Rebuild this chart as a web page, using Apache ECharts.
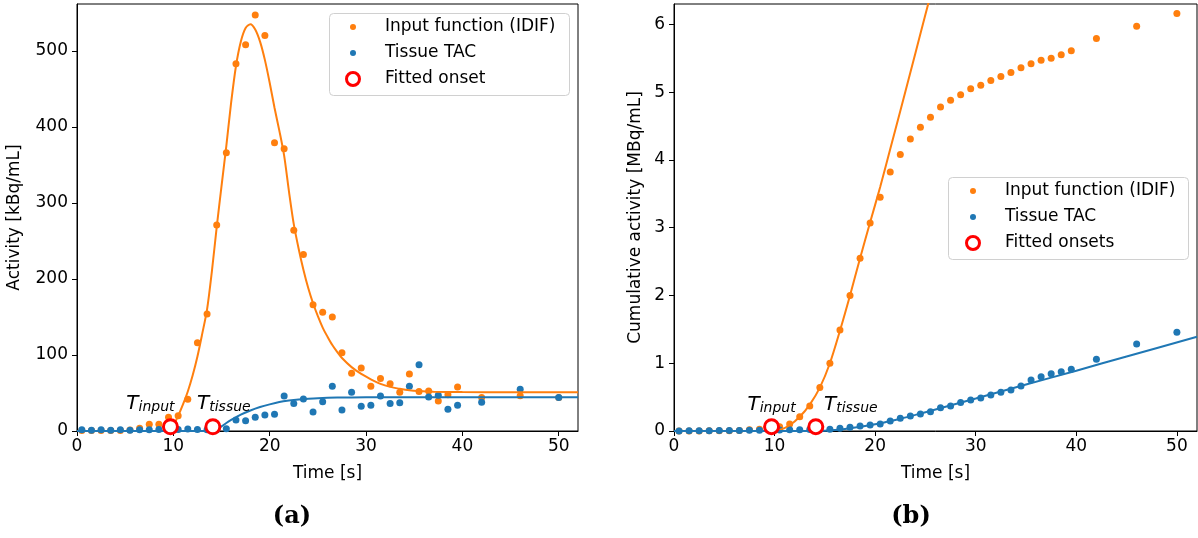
<!DOCTYPE html>
<html><head><meta charset="utf-8">
<script src="https://cdn.jsdelivr.net/npm/echarts@6/dist/echarts.min.js"></script>
<style>html,body{margin:0;padding:0;background:#fff}#c{width:1198px;height:538px}</style>
</head><body><div id="c"></div>
<script>
// ---- data ----
const time = [0.5,1.5,2.5,3.5,4.5,5.5,6.5,7.5,8.5,9.5,10.5,11.5,12.5,13.5,14.5,15.5,16.5,17.5,18.5,19.5,
  20.5,21.5,22.5,23.5,24.5,25.5,26.5,27.5,28.5,29.5,30.5,31.5,32.5,33.5,34.5,35.5,36.5,37.5,38.5,39.5,42,46,50];
const idif = [0.5,0.5,0.5,0.8,0.8,1.2,3.5,8.8,8.8,18,20,41.7,116,154,271,366,483,508,547,520,
  379,371,264,232,166,156,150,103,76,83,59,69,62,51,75,52,52.6,39.5,47.8,58,44,46.5,44];
const tissue = [1.5,1,1.5,1,1.5,1,1.5,1.5,2,1.5,2,2.5,2,1.5,1.5,3,14.5,13.6,18,21,
  22,46,36,42,25,38.6,59,27.6,51,32.5,34,46,36,37,59,87,44.7,47,28.5,33.8,37.7,54.8,44];
const idifCum = [0.0005,0.001,0.0015,0.002,0.003,0.004,0.008,0.017,0.025,0.043,0.063,0.105,0.21,0.37,0.64,1.0,1.49,2.0,2.55,3.07,
  3.45,3.82,4.08,4.31,4.48,4.63,4.78,4.88,4.96,5.05,5.10,5.17,5.23,5.29,5.36,5.42,5.47,5.50,5.55,5.61,5.79,5.97,6.16];
const tissueCum = [0.001,0.002,0.004,0.005,0.006,0.007,0.009,0.010,0.012,0.013,0.015,0.018,0.020,0.021,0.023,0.025,0.04,0.055,0.072,0.088,
  0.103,0.148,0.187,0.22,0.25,0.285,0.344,0.37,0.42,0.458,0.487,0.53,0.57,0.605,0.665,0.753,0.80,0.846,0.876,0.91,1.06,1.285,1.457];

// fitted curves
const fitIdifT = [0,9.7,10,10.5,11,11.5,12,12.5,13,13.5,14,14.5,15,15.5,16,16.5,17,17.5,18,18.5,19,19.5,20,20.5,21,21.5,22,22.5,23,23.5,24,24.5,25,25.5,26,26.5,27,27.5,28.5,29.5,30.5,31.5,32.5,33.5,34.5,35.5,37,40,45,52];
const fitIdifV = [0,0,7,20,35,52,73,98,128,160,210,268,322,375,432,480,512,530,535,528,512,488,458,425,395,362,315,272,240,212,188,168,151,136,124,113,104,96,84,75,68,62,58,55.5,53.5,52.5,51.7,51.2,51,51];
const fitTissueT = [0,14.1,14.5,15,15.5,16,16.5,17,18,19,20,21,22,23,24,25,27,30,35,52];
const fitTissueV = [0,0,2,6,10.5,14.5,18,21.5,27,31.5,35,38,40,41.5,42.5,43.2,43.9,44.3,44.5,44.5];
const fitIdifCumT = [0,9.7,10.5,11.5,12.5,13.5,14.5,15.5,16.5,17.5,18.5,19.5,20.5,21.5,22.5,23.5,24.5,25.5];
const fitIdifCumV = [0,0,0.015,0.085,0.21,0.39,0.64,1.0,1.48,2.0,2.55,3.08,3.6,4.16,4.72,5.29,5.86,6.43];
const fitTissueCumT = [0,14.1,15,16,17,18,19,20,21,22,24,26,30,35,40,45,52];
const fitTissueCumV = [0,0,0.004,0.014,0.03,0.05,0.074,0.1,0.13,0.162,0.238,0.318,0.48,0.685,0.89,1.1,1.39];

const onsetT = [9.7, 14.1];
const onsetLabels = ['input', 'tissue'];
const onsetYLeft = [5.6, 5.6];
const onsetYRight = [0.063, 0.063];

const xTicks = [0,10,20,30,40,50];
const yTicksLeft = [0,100,200,300,400,500];
const yTicksRight = [0,1,2,3,4,5,6];

// ---- styles ----
const ORANGE = '#ff7f0e', BLUE = '#1f77b4', RED = '#ff0000';
const FONT = 'DejaVu Sans';
const zip = (a, b) => a.map((v, i) => [v, b[i]]);

function xAxis(grid) {
  return {gridIndex: grid, type: 'value', min: 0, max: 52, interval: 10,
    name: 'Time [s]', nameLocation: 'middle', nameGap: 34,
    nameTextStyle: {fontSize: 17, color: '#000', fontFamily: FONT},
    axisLine: {lineStyle: {color: '#000', width: 1}},
    axisTick: {show: true, length: 5, lineStyle: {color: '#000'}, customValues: xTicks},
    axisLabel: {fontSize: 17, color: '#000', fontFamily: FONT, margin: 7, customValues: xTicks},
    splitLine: {show: false}};
}
function yAxis(grid, max, ticks, name, gap) {
  return {gridIndex: grid, type: 'value', min: 0, max: max,
    name: name, nameLocation: 'middle', nameGap: gap,
    nameTextStyle: {fontSize: 17, color: '#000', fontFamily: FONT},
    axisLine: {show: true, lineStyle: {color: '#000', width: 1}},
    axisTick: {show: true, length: 5, lineStyle: {color: '#000'}, customValues: ticks},
    axisLabel: {fontSize: 17, color: '#000', fontFamily: FONT, margin: 9, customValues: ticks},
    splitLine: {show: false}};
}
const rich = {
  T: {fontFamily: FONT, fontStyle: 'italic', fontSize: 20, color: '#000', lineHeight: 22},
  s: {fontFamily: FONT, fontStyle: 'italic', fontSize: 14, color: '#000', lineHeight: 14, verticalAlign: 'bottom'}
};
function onsetSeries(name, xi, yi, ys, offsets) {
  return {name: name, type: 'scatter', xAxisIndex: xi, yAxisIndex: yi, z: 5,
    symbol: 'circle', symbolSize: 14,
    itemStyle: {color: '#fff', borderColor: RED, borderWidth: 3, opacity: 1},
    data: onsetT.map((t, i) => ({value: [t, ys[i]],
      label: {show: true, position: 'inside', offset: offsets[i],
        formatter: '{T|T}{s|' + onsetLabels[i] + '}', rich: rich}})),
    emphasis: {disabled: true}};
}
function scatter(name, xi, data, color) {
  return {name: name, type: 'scatter', xAxisIndex: xi, yAxisIndex: xi, symbolSize: 7,
    itemStyle: {color: color, opacity: 1}, data: data, emphasis: {disabled: true}};
}
function line(name, xi, data, color) {
  return {name: name, type: 'line', xAxisIndex: xi, yAxisIndex: xi, showSymbol: false,
    smooth: 0.3, lineStyle: {color: color, width: 2}, itemStyle: {color: color},
    data: data, z: 3, emphasis: {disabled: true}};
}
// left = icon's left extent (legend aligns the content bounding box to `left`)
function legendItem(iconCenterX, rowY, name, h, extent, itemStyle) {
  return {left: iconCenterX - extent, top: rowY - 10, padding: 0, orient: 'vertical', selectedMode: false,
    itemWidth: 54, itemHeight: h, z: 6,
    textStyle: {fontSize: 17, color: '#000', fontFamily: FONT, lineHeight: 20},
    data: [{name: name, icon: 'circle', itemStyle: itemStyle}]};
}

const option = {
  animation: false,
  backgroundColor: '#fff',
  grid: [
    {left: 77, top: 4, width: 501, height: 427, show: true, borderColor: '#000', borderWidth: 1, backgroundColor: 'transparent'},
    {left: 674, top: 4, width: 523, height: 427, show: true, borderColor: '#000', borderWidth: 1, backgroundColor: 'transparent'}
  ],
  xAxis: [xAxis(0), xAxis(1)],
  yAxis: [yAxis(0, 561.5, yTicksLeft, 'Activity [kBq/mL]', 54),
          yAxis(1, 6.3, yTicksRight, 'Cumulative activity [MBq/mL]', 30)],
  legend: [
    legendItem(353, 27, 'Input function (IDIF)', 6, 3, {color: ORANGE, borderWidth: 0}),
    legendItem(353, 53, 'Tissue TAC', 6, 3, {color: BLUE, borderWidth: 0}),
    legendItem(353, 79, 'Fitted onset', 13, 8, {color: '#fff', borderColor: RED, borderWidth: 3}),
    legendItem(973, 191, 'Input function (IDIF)', 6, 3, {color: ORANGE, borderWidth: 0}),
    legendItem(973, 217, 'Tissue TAC', 6, 3, {color: BLUE, borderWidth: 0}),
    legendItem(973, 243, 'Fitted onsets', 13, 8, {color: '#fff', borderColor: RED, borderWidth: 3})
  ],
  graphic: [
    {type: 'rect', z: 5, shape: {x: 329.5, y: 13.5, width: 240, height: 82, r: 4},
      style: {fill: 'rgba(255,255,255,0.8)', stroke: '#d0d0d0', lineWidth: 1}},
    {type: 'rect', z: 5, shape: {x: 948.5, y: 177.5, width: 240, height: 82, r: 4},
      style: {fill: 'rgba(255,255,255,0.8)', stroke: '#d0d0d0', lineWidth: 1}},
    {type: 'text', z: 5, x: 292, y: 517, style: {text: '(a)', font: 'bold 24px "DejaVu Serif"', fill: '#000', textAlign: 'center', textVerticalAlign: 'middle'}},
    {type: 'text', z: 5, x: 911, y: 517, style: {text: '(b)', font: 'bold 24px "DejaVu Serif"', fill: '#000', textAlign: 'center', textVerticalAlign: 'middle'}}
  ],
  series: [
    scatter('Input function (IDIF)', 0, zip(time, idif), ORANGE),
    scatter('Tissue TAC', 0, zip(time, tissue), BLUE),
    line('IDIF fit', 0, zip(fitIdifT, fitIdifV), ORANGE),
    line('Tissue fit', 0, zip(fitTissueT, fitTissueV), BLUE),
    onsetSeries('Fitted onset', 0, 0, onsetYLeft, [[-20, -23], [11, -23]]),
    scatter('Input function (IDIF)', 1, zip(time, idifCum), ORANGE),
    scatter('Tissue TAC', 1, zip(time, tissueCum), BLUE),
    line('IDIF cumulative fit', 1, zip(fitIdifCumT, fitIdifCumV), ORANGE),
    line('Tissue cumulative fit', 1, zip(fitTissueCumT, fitTissueCumV), BLUE),
    onsetSeries('Fitted onsets', 1, 1, onsetYRight, [[0, -22], [35, -22]])
  ]
};
const chart = echarts.init(document.getElementById('c'), null, {renderer: 'canvas'});
chart.setOption(option);
</script>
</body></html>
